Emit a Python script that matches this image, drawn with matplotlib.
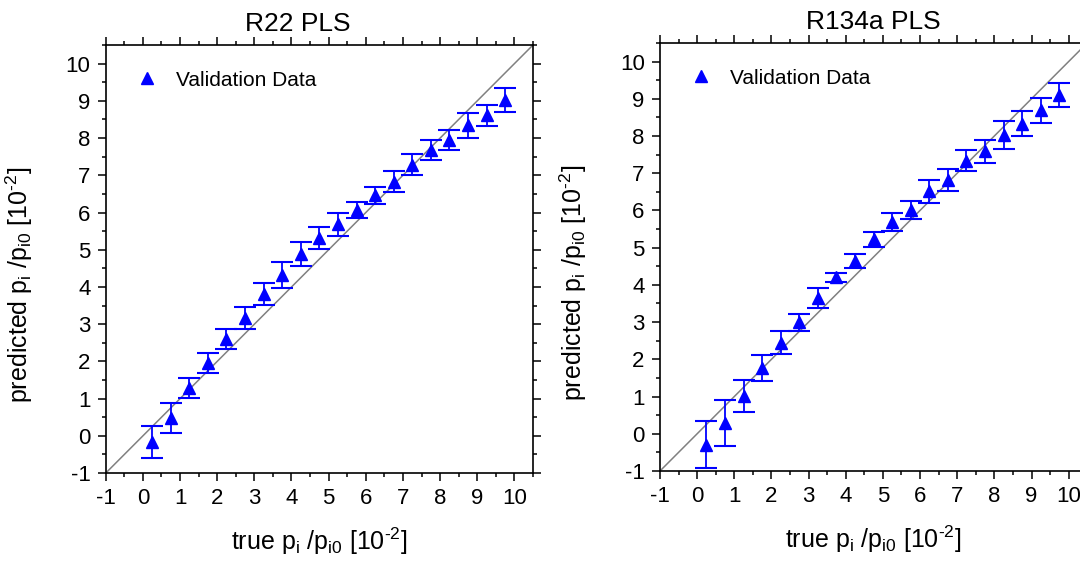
import matplotlib
matplotlib.use("Agg")
import matplotlib.pyplot as plt
from matplotlib.lines import Line2D
from matplotlib.ticker import MultipleLocator

plt.rcParams["font.family"] = ["Liberation Sans", "DejaVu Sans"]
plt.rcParams["mathtext.fontset"] = "custom"
plt.rcParams["mathtext.rm"] = "Liberation Sans"
plt.rcParams["mathtext.it"] = "Liberation Sans"
plt.rcParams["axes.unicode_minus"] = False

# true values (x) shared by both panels
true_vals = [0.25, 0.75, 1.25, 1.75, 2.25, 2.75, 3.25, 3.75, 4.25, 4.75,
             5.25, 5.75, 6.25, 6.75, 7.25, 7.75, 8.25, 8.75, 9.25, 9.75]

r22_pred = [-0.17, 0.49, 1.29, 1.96, 2.61, 3.17, 3.81, 4.33, 4.88, 5.32,
            5.68, 6.07, 6.46, 6.83, 7.28, 7.68, 7.95, 8.34, 8.61, 9.02]
r22_err = [0.43, 0.40, 0.27, 0.27, 0.27, 0.29, 0.30, 0.35, 0.32, 0.30,
           0.30, 0.22, 0.23, 0.28, 0.28, 0.26, 0.28, 0.33, 0.28, 0.33]

r134a_pred = [-0.29, 0.29, 1.02, 1.77, 2.45, 3.00, 3.65, 4.20, 4.64, 5.23,
              5.69, 6.02, 6.51, 6.82, 7.34, 7.59, 8.03, 8.33, 8.69, 9.09]
r134a_err = [0.62, 0.62, 0.43, 0.34, 0.32, 0.23, 0.27, 0.13, 0.19, 0.20,
             0.23, 0.24, 0.31, 0.29, 0.29, 0.31, 0.38, 0.34, 0.33, 0.32]

titles = ["R22 PLS", "R134a PLS"]
ticks = list(range(-1, 11))
lims = (-1, 10.5)
BLUE = "#0000ff"

# hyphen (U+2010) in the exponent so it is not drawn as a wide minus
xlabel = "true p$_\\mathregular{i}$ /p$_\\mathregular{i0}$ [10$^\\mathregular{\u20102}$]"
ylabel = "predicted p$_\\mathregular{i}$ /p$_\\mathregular{i0}$ [10$^\\mathregular{\u20102}$]"

fig = plt.figure(figsize=(10.8, 5.7), dpi=100)
ax1 = fig.add_axes([0.0979, 0.170, 0.3956, 0.751])
ax2 = fig.add_axes([0.6111, 0.1737, 0.3956, 0.751])

panels = [(ax1, r22_pred, r22_err, titles[0], 0.45),
          (ax2, r134a_pred, r134a_err, titles[1], 0.5)]

for ax, pred, err, title, title_x in panels:
    ax.plot(lims, lims, color="#808080", lw=1.1, zorder=1)
    ax.errorbar(true_vals, pred, yerr=err, fmt="^", color=BLUE, ms=8,
                ecolor=BLUE, elinewidth=1.3, capsize=8, capthick=1.5,
                zorder=3)
    ax.set_xlim(lims)
    ax.set_ylim(lims)
    ax.set_xticks(ticks)
    ax.set_yticks(ticks)
    ax.xaxis.set_minor_locator(MultipleLocator(0.5))
    ax.yaxis.set_minor_locator(MultipleLocator(0.5))
    ax.tick_params(which="both", direction="out", top=True, right=True,
                   width=1.1, labelsize=16)
    ax.tick_params(which="major", length=6, pad=5)
    ax.tick_params(which="minor", length=3)
    for sp in ax.spines.values():
        sp.set_linewidth(1.2)
    ax.set_xlabel(xlabel, fontsize=18, labelpad=12)
    ax.set_ylabel(ylabel, fontsize=18)
    ax.yaxis.set_label_coords(-0.166, 0.44)
    ax.text(title_x, 1.022, title, transform=ax.transAxes, ha="center",
            va="bottom", fontsize=19)
    handle = Line2D([], [], ls="none", marker="^", color=BLUE, ms=8)
    ax.legend([handle], ["Validation Data"], loc="upper left",
              bbox_to_anchor=(0.072, 0.94), frameon=False, fontsize=15,
              handlelength=1.0, handletextpad=0.9, borderpad=0,
              borderaxespad=0)

fig.savefig("out.png", dpi=100)
